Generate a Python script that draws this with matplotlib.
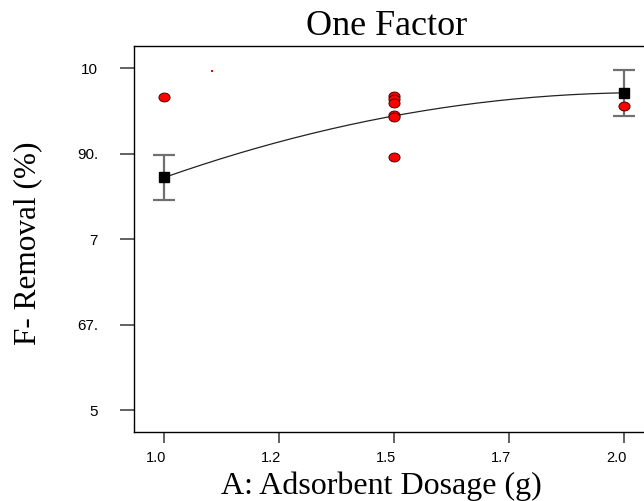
import numpy as np
import matplotlib
matplotlib.use("Agg")
import matplotlib.pyplot as plt
from matplotlib.path import Path
import matplotlib.transforms as mtransforms

# ---- data ----
title = "One Factor"
x_label = "A: Adsorbent Dosage (g)"
y_label = "F- Removal (%)"

x_ticks = [1.0, 1.25, 1.5, 1.75, 2.0]
x_tick_labels = ["1.0", "1.2", "1.5", "1.7", "2.0"]
y_ticks = [56.0, 67.5, 79.0, 90.5, 102.0]
y_tick_labels = ["5", "67.", "7", "90.", "10"]

obs_x = [1.0, 1.5, 1.5, 1.5, 1.5, 1.5, 1.5, 2.0]
obs_y = [98.1, 98.27, 97.83, 97.37, 95.71, 95.40, 90.10, 96.9]

stray_x = [1.104]
stray_y = [101.7]

model_x = [1.0, 1.5, 2.0]
model_y = [87.3, 95.6, 98.7]

design_x = [1.0, 2.0]
design_y = [87.3, 98.7]
design_err = [3.0, 3.1]

# ---- figure ----
W, H = 644, 501
fig = plt.figure(figsize=(W / 100, H / 100), dpi=100)
ax_left, ax_right, ax_top, ax_bottom = 134, 644, 46, 432
ax = fig.add_axes([ax_left / W, (H - ax_bottom) / H,
                   (ax_right - ax_left) / W, (ax_bottom - ax_top) / H])

px_per_x = 460.0
px_per_y = (410 - 68.3) / (102.0 - 56.0)
ax.set_xlim(1.0 - (164.3 - ax_left) / px_per_x, 2.0 + (ax_right - 624.3) / px_per_x)
ax.set_ylim(56.0 - (ax_bottom - 410) / px_per_y, 102.0 + (68.3 - ax_top) / px_per_y)

# model curve
coef = np.polyfit(model_x, model_y, 2)
xs = np.linspace(min(model_x), max(model_x), 200)
ax.plot(xs, np.polyval(coef, xs), color="#222222", lw=0.9, zorder=2)

# error bars
ax.errorbar(design_x, design_y, yerr=design_err, fmt="none", ecolor="#707070",
            elinewidth=1.6, capsize=8, capthick=1.6, zorder=3)
ax.plot(design_x, design_y, linestyle="none", marker="s", markersize=7.2,
        color="black", zorder=4)

# observed points
ell = Path.unit_circle().transformed(mtransforms.Affine2D().scale(1.0, 0.8))
ax.plot(obs_x, obs_y, linestyle="none", marker=ell, markersize=8.0,
        markerfacecolor="#ff0000", markeredgecolor="#500000", markeredgewidth=0.7,
        zorder=5)
ax.plot(stray_x, stray_y, linestyle="none", marker="s", markersize=1.5,
        color="#ff0000", markeredgewidth=0, zorder=5)

# spines
for s in ["left", "bottom", "top"]:
    ax.spines[s].set_linewidth(1.0)
    ax.spines[s].set_color("black")
ax.spines["right"].set_visible(False)

# ticks
ax.set_xticks(x_ticks)
ax.set_xticklabels(x_tick_labels, fontsize=10.5, family="Liberation Sans")
ax.set_yticks(y_ticks)
ax.set_yticklabels(y_tick_labels, fontsize=11, family="Liberation Sans")
ax.tick_params(axis="x", direction="out", length=8, width=1.3, color="#555555", pad=6)
ax.tick_params(axis="y", direction="out", length=10, width=1.3, color="#555555", pad=16)
offset = mtransforms.ScaledTranslation(-8 / 100, 0, fig.dpi_scale_trans)
for lab in ax.get_xticklabels():
    lab.set_transform(lab.get_transform() + offset)

# texts
fig.text(387 / W, (H - 35) / H, title, ha="center", va="baseline",
         fontsize=26, family="Liberation Serif")
fig.text(381 / W, (H - 494) / H, x_label, ha="center", va="baseline",
         fontsize=23, family="Liberation Serif")
fig.text(28 / W, (H - 243) / H, y_label, ha="center", va="center", rotation=90,
         fontsize=22.5, family="Liberation Serif")

fig.savefig("out.png", dpi=100)
